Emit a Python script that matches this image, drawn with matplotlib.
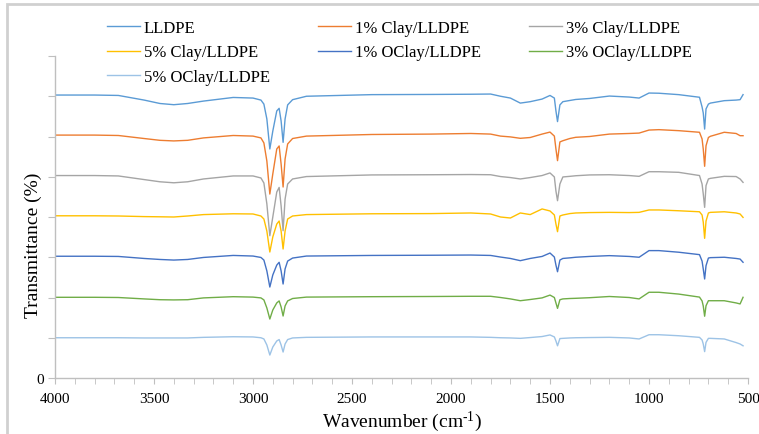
import matplotlib
matplotlib.use("Agg")
import matplotlib.pyplot as plt
from matplotlib.patches import Rectangle
from matplotlib.ticker import MultipleLocator, FixedLocator, FixedFormatter

plt.rcParams['font.family'] = ['Liberation Serif', 'DejaVu Serif']
plt.rcParams['mathtext.fontset'] = 'custom'
plt.rcParams['mathtext.rm'] = 'Liberation Serif'
plt.rcParams['mathtext.default'] = 'regular'

# wavenumber grid (cm-1)
wavenumber = [4000, 3800, 3680, 3550, 3470, 3400, 3330, 3250, 3100, 3000,
              2960, 2945, 2930, 2915, 2900, 2880, 2868, 2858, 2848, 2838,
              2825, 2800, 2730, 2400, 2100, 1900, 1800, 1750, 1700, 1650,
              1600, 1540, 1500, 1478, 1470, 1462, 1450, 1435, 1400, 1370,
              1300, 1200, 1100, 1050, 1000, 950, 850, 745, 732, 726,
              719, 712, 700, 690, 620, 560, 540, 525]

lldpe = [140.6, 140.6, 140.4, 138.1, 136.4, 135.8, 136.4, 137.6, 139.4, 139.1,
         138.1, 136.1, 128.7, 113.8, 122.7, 132.7, 134.0, 127.7, 117.1, 128.7,
         135.7, 138.3, 140.0, 140.8, 140.9, 141.0, 141.1, 140.0, 139.1, 136.6,
         137.3, 138.6, 140.4, 139.1, 132.7, 127.4, 135.7, 137.3, 137.9, 138.4,
         138.9, 140.1, 139.6, 139.1, 141.6, 141.5, 140.8, 139.5, 134.7, 131.7,
         123.7, 133.7, 136.1, 136.6, 137.8, 138.1, 138.3, 140.8]
clay1 = [120.7, 120.7, 120.5, 119.0, 118.1, 117.8, 118.1, 119.3, 120.5, 120.2,
         119.3, 116.8, 107.8, 91.4, 101.4, 113.8, 115.3, 106.3, 94.9, 108.8,
         116.3, 119.0, 120.2, 121.0, 121.2, 121.5, 121.2, 120.2, 119.8, 119.1,
         119.5, 121.2, 122.2, 120.2, 113.8, 108.0, 117.3, 117.9, 119.0, 119.6,
         120.0, 121.2, 121.5, 121.7, 123.2, 123.4, 122.9, 122.1, 118.8, 113.8,
         105.2, 115.4, 119.5, 120.1, 122.1, 121.5, 120.4, 120.4]
clay3 = [100.6, 100.6, 100.4, 98.6, 97.5, 97.0, 97.5, 98.9, 100.4, 100.4,
         99.4, 96.9, 86.5, 70.7, 80.0, 92.4, 94.7, 85.5, 73.2, 88.9,
         96.4, 98.9, 100.1, 100.9, 101.0, 101.1, 101.0, 100.1, 99.6, 98.9,
         99.6, 100.6, 101.9, 99.9, 92.9, 88.1, 96.4, 99.9, 100.2, 100.5,
         100.9, 101.0, 100.6, 100.2, 102.5, 102.5, 102.2, 100.6, 96.4, 91.5,
         84.8, 95.6, 98.9, 99.2, 100.2, 100.1, 98.9, 97.2]
clay5 = [80.6, 80.6, 80.5, 80.2, 80.1, 80.0, 80.5, 81.2, 81.6, 81.5,
         80.5, 79.0, 73.0, 62.6, 70.1, 76.5, 78.0, 73.0, 64.1, 73.0,
         79.0, 80.5, 81.2, 81.6, 81.7, 82.0, 81.5, 80.0, 79.5, 82.0,
         81.2, 84.0, 83.0, 81.0, 76.5, 72.7, 80.5, 81.0, 81.7, 82.0,
         82.2, 82.3, 82.2, 82.3, 83.5, 83.5, 83.1, 82.6, 81.0, 77.5,
         69.4, 78.0, 82.0, 82.3, 82.6, 82.0, 81.5, 79.8]
oclay1 = [60.5, 60.5, 60.4, 59.4, 58.9, 58.6, 58.9, 59.9, 60.9, 60.6,
          59.9, 58.6, 53.2, 45.2, 51.2, 56.1, 57.5, 53.2, 46.7, 54.2,
          58.1, 59.6, 60.6, 60.9, 61.0, 61.1, 60.9, 60.1, 59.4, 58.3,
          59.4, 60.4, 62.1, 60.1, 56.1, 52.8, 58.6, 59.4, 59.7, 60.0,
          60.4, 60.8, 60.4, 60.0, 63.3, 63.3, 62.5, 61.3, 58.1, 54.2,
          49.2, 55.8, 59.6, 59.8, 60.0, 59.4, 59.1, 57.5]
oclay3 = [40.1, 40.1, 40.0, 39.3, 38.9, 38.8, 38.9, 39.8, 40.4, 40.2,
          39.8, 38.8, 34.8, 29.3, 33.8, 37.3, 38.3, 35.3, 30.8, 35.8,
          38.3, 39.5, 40.2, 40.4, 40.5, 40.6, 40.6, 40.0, 39.3, 38.4,
          39.0, 39.8, 41.2, 40.0, 37.3, 34.6, 38.9, 39.3, 39.5, 39.6,
          39.9, 40.5, 40.0, 39.3, 42.6, 42.6, 41.7, 40.2, 38.3, 35.8,
          30.7, 35.9, 38.4, 38.4, 38.4, 37.3, 36.8, 40.1]
oclay5 = [20.0, 20.0, 20.0, 19.9, 19.9, 19.9, 19.9, 20.2, 20.5, 20.4,
          20.0, 19.4, 16.4, 11.4, 15.4, 18.4, 19.1, 16.4, 12.9, 16.9,
          19.1, 19.9, 20.2, 20.4, 20.4, 20.4, 20.2, 20.0, 19.9, 19.7,
          20.1, 20.6, 21.4, 20.4, 18.4, 16.0, 19.6, 19.7, 19.9, 20.0,
          20.1, 20.2, 19.9, 19.4, 21.5, 21.5, 21.0, 20.2, 18.9, 16.9,
          13.1, 17.7, 19.7, 19.7, 19.4, 17.6, 16.9, 16.0]

labels = ["LLDPE", "1% Clay/LLDPE", "3% Clay/LLDPE", "5% Clay/LLDPE",
          "1% OClay/LLDPE", "3% OClay/LLDPE", "5% OClay/LLDPE"]
colors = ["#5B9BD5", "#ED7D31", "#A5A5A5", "#FFC000",
          "#4472C4", "#70AD47", "#9DC3E6"]
series = [lldpe, clay1, clay3, clay5, oclay1, oclay3, oclay5]


def main():
    fig = plt.figure(figsize=(7.59, 4.35), dpi=100)
    ax = fig.add_axes([55 / 759, 56 / 435, 693 / 759, 322 / 435])

    handles = []
    for vals, lab, col in zip(series, labels, colors):
        h, = ax.plot(wavenumber, vals, color=col, lw=1.0, label=lab)
        handles.append(h)

    ax.set_xlim(4000, 500)
    ax.set_ylim(0, 160)
    ax.xaxis.set_major_locator(MultipleLocator(500))
    ax.xaxis.set_minor_locator(MultipleLocator(100))
    ax.yaxis.set_major_locator(FixedLocator(list(range(0, 161, 20))))
    ax.yaxis.set_major_formatter(FixedFormatter(["0"] + [""] * 8))

    for s in ["top", "right"]:
        ax.spines[s].set_visible(False)
    for s in ["left", "bottom"]:
        ax.spines[s].set_color("#bfbfbf")
        ax.spines[s].set_linewidth(1.0)
    ax.tick_params(which="both", direction="out", color="#bfbfbf", labelsize=11)
    ax.tick_params(axis="x", which="major", length=4, pad=6)
    ax.tick_params(axis="x", which="minor", length=4)
    ax.tick_params(axis="y", length=5, pad=3)

    ax.set_xlabel(r"Wavenumber (cm$^{\text{-1}}$)", fontsize=14, labelpad=3)
    ax.set_ylabel("Transmittance (%)", fontsize=14)
    ax.yaxis.set_label_coords(-13 / 693, (379 - 245) / 322)

    order = [0, 3, 6, 1, 4, 2, 5]
    fig.legend([handles[i] for i in order], [labels[i] for i in order],
               ncol=3, loc="upper left", bbox_to_anchor=(107 / 759, 1 - 21 / 435),
               frameon=False, fontsize=12, handlelength=2.0, handletextpad=0.2,
               columnspacing=2.9, labelspacing=0.5, borderpad=0, borderaxespad=0)

    # chart-area border (clipped by the picture edge at right/bottom)
    fig.patches.append(Rectangle((7 / 759, -0.2), 1.2, 1.2 - 5 / 435,
                                 transform=fig.transFigure, fill=False,
                                 ec="#d0d0d0", lw=2.0))

    plt.savefig("out.png", dpi=100)
    plt.close()


if __name__ == '__main__':
    main()
